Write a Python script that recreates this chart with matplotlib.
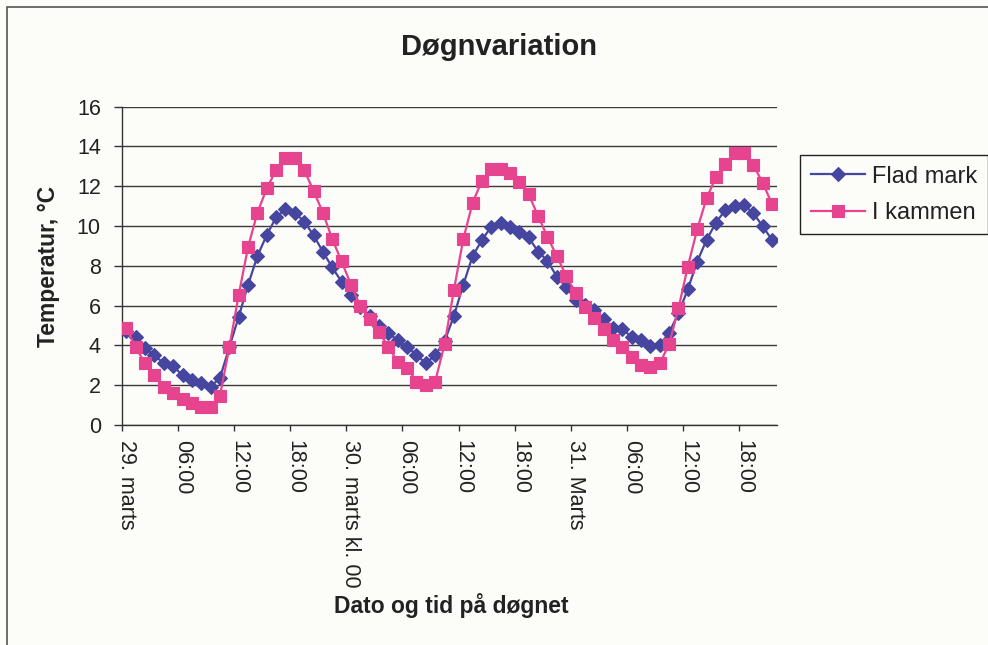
import matplotlib
matplotlib.use("Agg")
import matplotlib.pyplot as plt
from matplotlib.patches import Rectangle
import numpy as np

plt.rcParams['font.family'] = ['Liberation Sans', 'DejaVu Sans']

# ---- data (hourly readings, 29. marts 00:00 onward) ----
tick_labels = ["29. marts", "06:00", "12:00", "18:00", "30. marts kl. 00",
               "06:00", "12:00", "18:00", "31. Marts", "06:00", "12:00", "18:00"]

flad_mark = [4.75, 4.42, 3.85, 3.50, 3.10, 2.96, 2.50, 2.28, 2.09, 1.92,
             2.37, 3.90, 5.44, 7.04, 8.49, 9.55, 10.44, 10.86, 10.68, 10.22,
             9.55, 8.71, 7.92, 7.20, 6.53, 5.95, 5.49, 4.96, 4.62, 4.25,
             3.94, 3.52, 3.10, 3.52, 4.20, 5.48, 7.04, 8.49, 9.30, 9.97,
             10.17, 9.97, 9.72, 9.43, 8.71, 8.26, 7.45, 6.95, 6.28, 6.03,
             5.78, 5.31, 4.90, 4.81, 4.44, 4.27, 3.97, 4.02, 4.64, 5.61,
             6.82, 8.21, 9.30, 10.17, 10.80, 11.01, 11.06, 10.64, 10.00, 9.30]

i_kammen = [4.88, 3.90, 3.10, 2.51, 1.93, 1.62, 1.29, 1.09, 0.92, 0.92,
            1.47, 3.90, 6.53, 8.93, 10.67, 11.89, 12.81, 13.40, 13.40, 12.81,
            11.78, 10.67, 9.35, 8.22, 7.06, 5.97, 5.33, 4.66, 3.94, 3.16,
            2.88, 2.18, 2.01, 2.18, 4.05, 6.78, 9.33, 11.17, 12.28, 12.85,
            12.85, 12.68, 12.23, 11.60, 10.50, 9.46, 8.49, 7.50, 6.62, 5.92,
            5.36, 4.84, 4.29, 3.94, 3.43, 3.02, 2.93, 3.10, 4.05, 5.86,
            7.96, 9.83, 11.39, 12.45, 13.10, 13.65, 13.65, 13.07, 12.18, 11.11]

y_ticks = [0, 2, 4, 6, 8, 10, 12, 14, 16]

# ---- style ----
bg = '#fcfcf8'
blue = '#4646a0'
pink = '#e6448e'
txt = '#222222'

W, H = 988, 645
fig = plt.figure(figsize=(W / 100, H / 100), dpi=100, facecolor=bg)
left, right, top, bottom = 121.7, 776.7, 106.7, 425.0
ax = fig.add_axes([left / W, 1 - bottom / H, (right - left) / W, (bottom - top) / H])
ax.set_facecolor(bg)

n = len(flad_mark)
x = np.arange(n)
ax.plot(x, flad_mark, color=blue, marker='D', ms=7.0, mec=blue, mew=0.8,
        lw=1.6, label='Flad mark', zorder=3)
ax.plot(x, i_kammen, color=pink, marker='s', ms=8.2, mec=pink, mew=0.8,
        lw=1.6, label='I kammen', zorder=4)

ax.set_xlim(-0.5, n - 0.5)
ax.set_ylim(0, 16)
ax.set_yticks(y_ticks)
ax.yaxis.grid(True, color='#3a3a3a', lw=1.0)
ax.set_axisbelow(True)
for s in ['top', 'right']:
    ax.spines[s].set_visible(False)
for s in ['left', 'bottom']:
    ax.spines[s].set_color('#333333')
    ax.spines[s].set_linewidth(1.0)

major = np.arange(0, n, 6)
ax.set_xticks(major)
ax.set_xticklabels(tick_labels, rotation=-90, va='top', ha='center')
ax.set_xticks(major - 0.5, minor=True)
ax.tick_params(axis='x', which='major', length=0, pad=11, labelsize=15.5,
               labelcolor=txt)
ax.tick_params(axis='x', which='minor', length=4, width=1, direction='out',
               color='#333333')
ax.tick_params(axis='y', length=6, width=1, pad=9, labelsize=15.5,
               labelcolor=txt, color='#333333')

fig.text(498.5 / W, 1 - 47 / H, 'Døgnvariation', ha='center', va='center',
         fontsize=21, fontweight='bold', color=txt)
fig.text(451.5 / W, 1 - 605 / H, 'Dato og tid på døgnet', ha='center',
         va='center', fontsize=16.5, fontweight='bold', color=txt)
fig.text(48 / W, 1 - 266.5 / H, 'Temperatur, °C', ha='center', va='center',
         rotation=90, fontsize=16.5, fontweight='bold', color=txt)

leg = fig.legend(loc='upper left', bbox_to_anchor=(800 / W, 1 - 155 / H),
                 frameon=True, fancybox=False, edgecolor='#222222',
                 facecolor=bg, framealpha=1, fontsize=17, handlelength=2.3,
                 handletextpad=0.3, labelspacing=0.6, borderpad=0.45,
                 borderaxespad=0)
leg.get_frame().set_linewidth(1.0)
for t in leg.get_texts():
    t.set_color(txt)

fig.patches.append(Rectangle((7 / W, -0.05), 1.1, 1 - 7 / H + 0.05,
                             transform=fig.transFigure, fill=False,
                             edgecolor='#555555', lw=1.2))

fig.savefig('out.png', dpi=100, facecolor=bg)
